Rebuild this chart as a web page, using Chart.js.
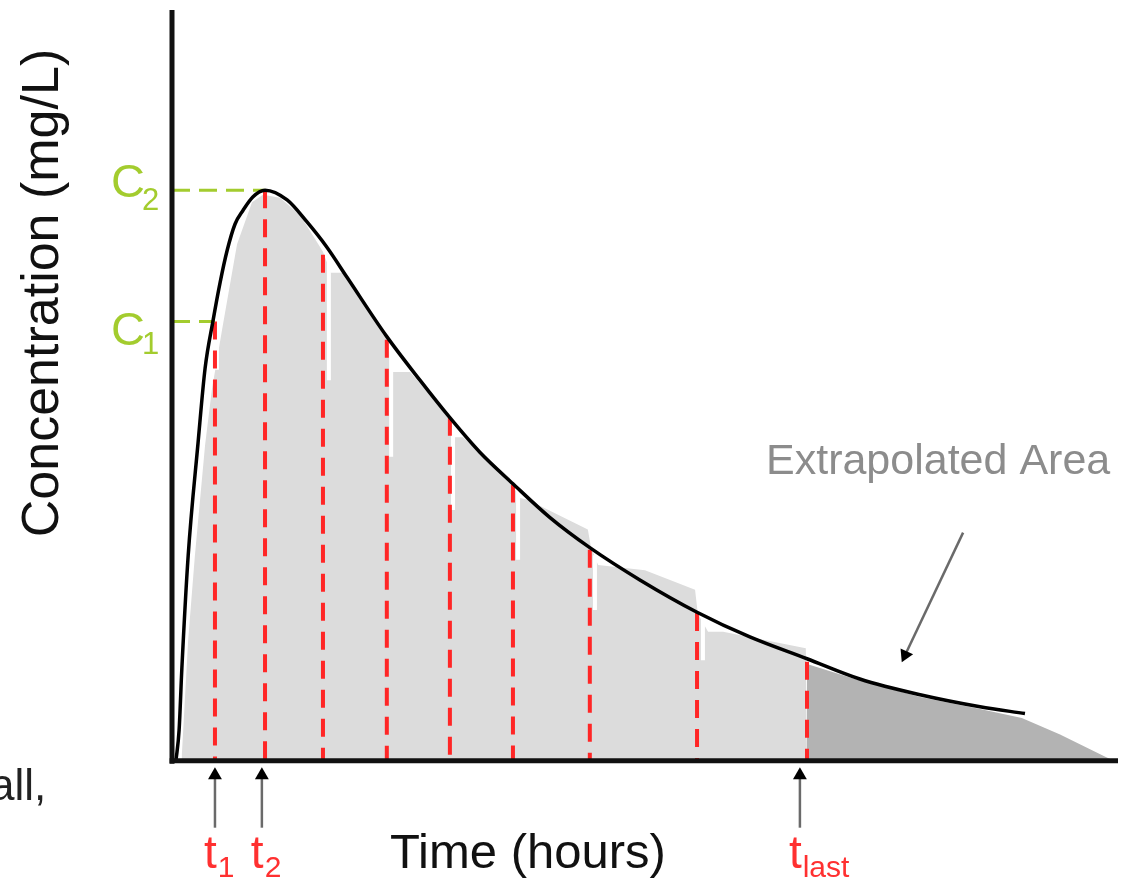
<!DOCTYPE html>
<html>
<head>
<meta charset="utf-8">
<script src="https://cdn.jsdelivr.net/npm/chart.js@4/dist/chart.umd.min.js"></script>
<style>
  html, body { margin: 0; padding: 0; background: #ffffff; overflow: hidden; }
  canvas { display: block; }
</style>
</head>
<body>
<canvas id="c" width="1124" height="878" style="width:1124px;height:878px"></canvas>
<script>
// ---- data (time in hours, concentration in mg/L, arbitrary scale) ----
const curveTimes = [0.10, 0.18, 0.25, 0.41, 0.66, 0.84, 1.04, 1.22, 1.40, 1.60, 1.80, 2.05, 2.36, 2.92, 3.42, 3.93, 4.44, 5.45, 6.29, 7.05, 7.81, 8.65, 9.59, 10.60, 11.87, 13.32, 14.66, 16.11, 17.45, 18.98, 20.50, 21.64];
const curveConc  = [0.00, 0.41, 1.23, 2.73, 4.23, 5.23, 5.86, 6.37, 6.80, 7.15, 7.33, 7.51, 7.60, 7.47, 7.18, 6.84, 6.44, 5.65, 5.07, 4.57, 4.11, 3.69, 3.24, 2.84, 2.41, 1.98, 1.65, 1.36, 1.09, 0.88, 0.72, 0.63];

// sampling times (red dashed verticals) and concentrations at them
const sampleTimes = [1.09, 2.36, 3.83, 5.45, 7.05, 8.65, 10.60, 13.32, 16.11];
const sampleConc  = [5.85, 7.60, 6.74, 5.61, 4.57, 3.68, 2.81, 1.97, 1.32];

// trapezoid (observed) area outline, light grey
const aucTimes = [0.23, 0.25, 0.41, 0.58, 0.84, 1.01, 1.27, 1.65, 2.03, 2.31, 2.74, 3.25, 3.83, 4.03, 4.34, 5.45, 5.61, 6.04, 7.05, 7.18, 7.38, 8.57, 8.65, 8.83, 9.01, 10.55, 10.63, 10.81, 12.00, 13.27, 13.34, 13.60, 13.98, 16.08, 16.11];
const aucConc  = [0.00, 0.08, 1.61, 2.73, 4.21, 4.94, 5.74, 6.88, 7.44, 7.54, 7.50, 7.27, 6.78, 6.50, 6.50, 5.65, 5.18, 5.18, 4.57, 4.31, 4.31, 3.77, 3.66, 3.50, 3.48, 3.08, 2.84, 2.61, 2.54, 2.28, 1.96, 1.72, 1.72, 1.50, 0.00];

// white gaps beside the dashed lines: time, top, bottom
const gapTimes  = [1.14, 3.98, 5.56, 7.13, 8.78, 10.73, 13.47];
const gapTops   = [5.84, 6.67, 5.51, 4.45, 3.61, 2.74, 1.94];
const gapBottoms= [5.21, 5.07, 4.05, 3.34, 2.68, 2.01, 1.34];

// extrapolated area outline, dark grey
const extraTimes = [16.11, 17.45, 18.98, 20.50, 21.56, 22.53, 23.69, 23.90];
const extraConc  = [1.29, 1.07, 0.85, 0.69, 0.57, 0.35, 0.05, 0.00];

// C1 / C2 reference levels
const c1Level = 5.85, c1Time = 1.09;
const c2Level = 7.60, c2Time = 2.34;

// arrows under the time axis (t1, t2, tlast)
const arrowTimes = [1.09, 2.28, 15.93];
const arrowLabels = [["t", "1"], ["t", "2"], ["t", "last"]];

// "Extrapolated Area" arrow (start, head)
const calloutStart = {x: 20.07, y: 3.04};
const calloutHead  = {x: 18.60, y: 1.41};

// axis ranges
const xMax = 24, yMax = 10, yMin = -1.56;

// ---- build datasets ----
const zip = (xs, ys) => xs.map((x, i) => ({x: x, y: ys[i]}));
const GREEN = '#a3cc2e';
const RED = '#ff2626';

const datasets = [];
datasets.push({ data: zip(aucTimes, aucConc), borderWidth: 0, pointRadius: 0, fill: 'origin', backgroundColor: '#dcdcdc', tension: 0, order: 20 });
datasets.push({ data: zip(extraTimes, extraConc), borderWidth: 0, pointRadius: 0, fill: 'origin', backgroundColor: '#b3b3b3', tension: 0, order: 20 });
gapTimes.forEach((t, i) => {
  datasets.push({ data: [{x: t, y: gapTops[i]}, {x: t, y: gapBottoms[i]}], borderColor: '#ffffff', borderWidth: 4, pointRadius: 0, fill: false, order: 15 });
});
sampleTimes.forEach((t, i) => {
  datasets.push({ data: [{x: t, y: sampleConc[i]}, {x: t, y: 0}], borderColor: RED, borderWidth: 4, borderDash: [18, 11], pointRadius: 0, fill: false, order: 10 });
});
datasets.push({ data: [{x: 0, y: c2Level}, {x: c2Time, y: c2Level}], borderColor: GREEN, borderWidth: 3, borderDash: [18, 9], pointRadius: 0, fill: false, order: 9 });
datasets.push({ data: [{x: 0, y: c1Level}, {x: c1Time, y: c1Level}], borderColor: GREEN, borderWidth: 3, borderDash: [18, 9], pointRadius: 0, fill: false, order: 9 });
// axes lines
datasets.push({ data: [{x: 0, y: yMax}, {x: 0, y: -0.04}], borderColor: '#111', borderWidth: 5, pointRadius: 0, fill: false, clip: false, order: 0 });
datasets.push({ data: [{x: -0.06, y: 0}, {x: xMax, y: 0}], borderColor: '#111', borderWidth: 5, pointRadius: 0, fill: false, clip: false, order: 0 });
// curve
datasets.push({ data: zip(curveTimes, curveConc), borderColor: '#000000', borderWidth: 3.5, pointRadius: 0, fill: false, cubicInterpolationMode: 'monotone', order: 1 });
arrowTimes.forEach((t) => {
  datasets.push({ data: [{x: t, y: -0.89}, {x: t, y: -0.19}], borderColor: '#6a6a6a', borderWidth: 2.5, pointStyle: 'triangle', pointRadius: [0, 8], pointBackgroundColor: '#000', pointBorderColor: '#000', pointBorderWidth: 0, pointRotation: 0, fill: false, clip: false, order: 2 });
});
datasets.push({ data: [calloutStart, calloutHead], borderColor: '#6a6a6a', borderWidth: 2.5, pointStyle: 'triangle', pointRadius: [0, 8], pointBackgroundColor: '#000', pointBorderColor: '#000', pointBorderWidth: 0, pointRotation: 205, fill: false, clip: false, order: 2 });

// ---- text plugin ----
const FONT = "'Liberation Sans', Arial, Helvetica, sans-serif";
const textPlugin = {
  id: 'texts',
  afterDraw(chart) {
    const ctx = chart.ctx;
    const xs = chart.scales.x;
    ctx.save();
    ctx.textBaseline = 'alphabetic';
    // y-axis title
    ctx.save();
    ctx.translate(58, 293);
    ctx.rotate(-Math.PI / 2);
    ctx.textAlign = 'center';
    ctx.fillStyle = '#111';
    ctx.font = '52px ' + FONT;
    ctx.fillText('Concentration (mg/L)', 0, 0);
    ctx.restore();
    // x-axis title
    ctx.textAlign = 'left';
    ctx.fillStyle = '#111';
    ctx.font = '49px ' + FONT;
    ctx.fillText('Time (hours)', 390, 868);
    // cut-off fragment at left
    ctx.font = '44px ' + FONT;
    ctx.fillStyle = '#222';
    ctx.fillText('all,', -10, 800);
    // Extrapolated Area
    ctx.font = '43px ' + FONT;
    ctx.fillStyle = '#8c8c8c';
    ctx.fillText('Extrapolated Area', 766, 474);
    // C1, C2
    ctx.fillStyle = GREEN;
    const cl = [['2', 197, 210], ['1', 345, 354]];
    cl.forEach(([sub, yb, ysb]) => {
      ctx.font = '47px ' + FONT;
      ctx.fillText('C', 111, yb);
      ctx.font = '31px ' + FONT;
      ctx.fillText(sub, 142, ysb);
    });
    // t labels
    ctx.fillStyle = '#ff3030';
    arrowTimes.forEach((t, i) => {
      const px = xs.getPixelForValue(t);
      ctx.font = '46px ' + FONT;
      const tw = ctx.measureText(arrowLabels[i][0]).width;
      const left = px - 11;
      ctx.fillText(arrowLabels[i][0], left, 868);
      ctx.font = '30px ' + FONT;
      ctx.fillText(arrowLabels[i][1], left + tw + 1, 877);
    });
    ctx.restore();
  }
};

new Chart(document.getElementById('c'), {
  type: 'line',
  data: { datasets: datasets },
  options: {
    responsive: false,
    maintainAspectRatio: false,
    devicePixelRatio: 1,
    animation: false,
    events: [],
    layout: { autoPadding: false, padding: { left: 172, right: 6, top: 10, bottom: 0 } },
    plugins: { legend: { display: false }, tooltip: { enabled: false } },
    scales: {
      x: { type: 'linear', display: false, min: 0, max: xMax },
      y: { type: 'linear', display: false, min: yMin, max: yMax }
    }
  },
  plugins: [textPlugin]
});
</script>
</body>
</html>
